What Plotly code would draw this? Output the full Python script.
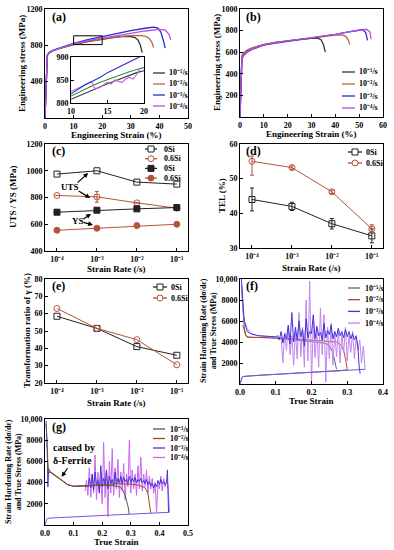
import plotly.graph_objects as go

W, H = 394, 550
FONT = "Liberation Serif"

# ---------------- DATA ----------------
rate_labels = ["10⁻¹/s", "10⁻²/s", "10⁻³/s", "10⁻⁴/s"]

# (a) 0Si engineering stress-strain
a_strain_1 = [0, 0.8, 1.5, 3, 5, 10, 15, 20, 25, 28, 30, 31.5, 32.5, 33.3, 34]
a_stress_1 = [0, 690, 720, 745, 765, 808, 840, 868, 890, 898, 897, 885, 860, 805, 720]
a_strain_2 = [0, 0.8, 1.5, 3, 5, 10, 15, 20, 25, 30, 33, 35, 36.5, 37.5, 38]
a_stress_2 = [0, 690, 720, 745, 766, 812, 845, 872, 893, 906, 910, 902, 875, 825, 775]
a_strain_3 = [0, 0.8, 1.5, 3, 5, 10, 15, 20, 25, 30, 35, 38, 39.5, 40.5, 41.5, 42]
a_stress_3 = [0, 690, 720, 748, 770, 822, 862, 898, 932, 962, 988, 1000, 990, 945, 840, 770]
a_strain_4 = [0, 0.8, 1.5, 3, 5, 10, 15, 20, 25, 30, 35, 40, 42, 43.3, 44]
a_stress_4 = [0, 690, 718, 745, 766, 818, 852, 880, 910, 938, 958, 975, 968, 925, 860]

# (a) inset, strain 10-20 %
in_strain = [10, 11, 12, 13, 14, 15, 16, 17, 18, 19, 20]
in_blue = [820, 830, 840, 848, 856, 866, 874, 882, 890, 898, 905]
in_green = [815, 823, 831, 838, 845, 851, 857, 863, 868, 873, 877]
in_dark = [808, 815, 822, 829, 836, 842, 848, 854, 860, 866, 870]
in_wavy_strain = [10, 11, 12, 12.8, 13.3, 14, 14.5, 15, 15.5, 16, 16.5, 17, 17.5, 18, 18.5, 19, 19.5]
in_wavy_stress = [825, 833, 841, 846, 831, 834, 840, 845, 841, 850, 847, 845, 852, 856, 852, 862, 876]

# (b) 0.6Si engineering stress-strain
b_strain_1 = [0, 0.8, 1.5, 3, 5, 10, 15, 20, 25, 30, 32.5, 34, 35, 35.8]
b_stress_1 = [0, 560, 590, 615, 635, 670, 690, 705, 718, 728, 730, 715, 670, 600]
b_strain_2 = [0, 0.8, 1.5, 3, 5, 10, 15, 20, 25, 30, 35, 40, 43, 44.5, 45.5, 46]
b_stress_2 = [0, 570, 595, 620, 640, 672, 690, 705, 718, 730, 745, 758, 760, 745, 710, 670]
b_strain_3 = [0, 0.8, 1.5, 3, 5, 10, 15, 20, 25, 30, 35, 40, 45, 50, 51.5, 52.8, 53.5]
b_stress_3 = [0, 540, 570, 600, 625, 665, 685, 700, 715, 730, 748, 765, 785, 805, 810, 780, 710]
b_strain_4 = [0, 0.8, 1.5, 3, 5, 10, 15, 20, 25, 30, 35, 40, 45, 50, 53, 54.5, 55]
b_stress_4 = [0, 545, 575, 605, 630, 668, 688, 702, 716, 730, 748, 765, 785, 803, 812, 790, 720]

# (c)(d)(e) vs strain rate
strain_rate = [1e-4, 1e-3, 1e-2, 1e-1]
rate_ticks = ["10⁻⁴", "10⁻³", "10⁻²", "10⁻¹"]
uts_0si = [975, 1000, 915, 900]
uts_06si = [815, 805, 760, 720]
uts_06si_err = [0, 40, 0, 0]
ys_0si = [690, 705, 715, 725]
ys_06si = [555, 570, 590, 600]
tel_0si = [44, 42, 37, 33.5]
tel_0si_err = [3.3, 1.2, 1.5, 2.0]
tel_06si = [55, 53.2, 46.2, 35.5]
tel_06si_err_plus = [1.5, 0.5, 0.5, 1.2]
tel_06si_err_minus = [4.0, 0.5, 0.5, 1.2]
tr_0si = [58.5, 51.5, 41, 36]
tr_06si = [63, 51.5, 45, 30.5]

# (f) 0Si strain hardening rate
f1_x = [0.004, 0.008, 0.012, 0.016, 0.02, 0.03, 0.05, 0.08, 0.1, 0.12, 0.15, 0.18, 0.2, 0.22, 0.24, 0.25, 0.26, 0.265, 0.27]
f1_y = [9500, 6800, 5300, 4700, 4500, 4450, 4450, 4400, 4350, 4300, 4200, 4100, 4050, 3950, 3850, 3650, 3000, 2200, 1400]
f2_x = [0.008, 0.012, 0.016, 0.02, 0.03, 0.05, 0.08, 0.1, 0.15, 0.2, 0.25, 0.27, 0.28, 0.29, 0.295, 0.3]
f2_y = [5600, 5000, 4600, 4450, 4450, 4450, 4420, 4400, 4300, 4200, 4100, 4000, 3800, 3200, 2400, 1400]
f3_x = [0.004, 0.008, 0.012, 0.02, 0.03, 0.05, 0.08, 0.1, 0.105, 0.11, 0.115, 0.12, 0.125, 0.13, 0.135,
        0.14, 0.145, 0.15, 0.155, 0.16, 0.165, 0.17, 0.175, 0.18, 0.185, 0.19, 0.195, 0.2, 0.205, 0.21,
        0.215, 0.22, 0.225, 0.23, 0.235, 0.24, 0.245, 0.25, 0.255, 0.26, 0.265, 0.27, 0.275, 0.28, 0.285,
        0.29, 0.295, 0.3, 0.305, 0.31, 0.315, 0.32, 0.325, 0.33, 0.333, 0.336]
f3_y = [10000, 7500, 6000, 5000, 4800, 4600, 4500, 4500, 4600, 4200, 5000, 3900, 4800, 4300, 5600,
        3800, 6800, 4000, 5400, 4200, 6000, 4500, 5200, 3600, 6200, 4400, 5000, 4800, 6600, 4300,
        5500, 4600, 4900, 4200, 5800, 4400, 5100, 4700, 5600, 4300, 5000, 4500, 5300, 4600, 5000,
        4400, 5200, 4500, 5000, 4300, 4800, 4200, 4600, 3500, 1800, 1000]
f4_x = [0.004, 0.008, 0.012, 0.016, 0.02, 0.03, 0.05, 0.08, 0.1, 0.115, 0.12, 0.125, 0.13, 0.135, 0.14,
        0.145, 0.15, 0.155, 0.16, 0.165, 0.17, 0.175, 0.18, 0.185, 0.19, 0.195, 0.2, 0.205, 0.21, 0.215,
        0.22, 0.225, 0.23, 0.235, 0.24, 0.245, 0.25, 0.255, 0.26, 0.265, 0.27, 0.275, 0.28, 0.285, 0.29,
        0.295, 0.3, 0.305, 0.31, 0.315, 0.32, 0.325, 0.33, 0.335, 0.34, 0.345, 0.35]
f4_y = [9500, 7000, 6000, 5600, 5300, 4800, 4600, 4500, 4450, 4400, 2000, 4800, 3200, 5500, 2800,
        4600, 1800, 5000, 2400, 6800, 2600, 5400, 1600, 8000, 2200, 9800, 0, 6000, 2500, 5200,
        1600, 7200, 2800, 6600, 200, 5400, 2400, 5800, 1800, 5000, 2600, 5200, 2000, 4800, 3000,
        5400, 2200, 4600, 3000, 5000, 2400, 4400, 3200, 4200, 2000, 3600, 1400]
f_ts_x = [0, 0.003, 0.006, 0.01, 0.02, 0.05, 0.1, 0.15, 0.2, 0.25, 0.3, 0.35]
f_ts_y = [0, 500, 650, 720, 760, 820, 920, 1020, 1120, 1220, 1320, 1400]

# (g) 0.6Si strain hardening rate
g1_x = [0.004, 0.008, 0.012, 0.016, 0.02, 0.04, 0.06, 0.08, 0.1, 0.12, 0.15, 0.2, 0.24, 0.26, 0.27, 0.28, 0.29, 0.295]
g1_y = [9500, 6500, 4800, 5000, 4950, 4550, 4150, 3800, 3650, 3650, 3700, 3750, 3700, 3600, 3400, 2800, 1800, 1000]
g2_x = [0.008, 0.012, 0.016, 0.02, 0.04, 0.06, 0.08, 0.1, 0.12, 0.15, 0.2, 0.25, 0.3, 0.33, 0.35, 0.36, 0.365, 0.37]
g2_y = [6000, 5000, 5100, 5000, 4600, 4200, 3800, 3650, 3650, 3700, 3800, 3900, 3850, 3750, 3500, 3000, 2000, 1100]
g3_x = [0.004, 0.008, 0.01, 0.013, 0.016, 0.02, 0.04, 0.06, 0.08, 0.1, 0.12, 0.14, 0.15, 0.155, 0.16,
        0.165, 0.17, 0.175, 0.18, 0.185, 0.19, 0.195, 0.2, 0.205, 0.21, 0.215, 0.22, 0.225, 0.23, 0.235,
        0.24, 0.245, 0.25, 0.255, 0.26, 0.265, 0.27, 0.275, 0.28, 0.285, 0.29, 0.295, 0.3, 0.305, 0.31,
        0.315, 0.32, 0.325, 0.33, 0.335, 0.34, 0.345, 0.35, 0.355, 0.36, 0.365, 0.37, 0.375, 0.38, 0.385,
        0.39, 0.395, 0.4, 0.405, 0.41, 0.415, 0.42, 0.425, 0.428, 0.432]
g3_y = [9800, 7000, 3600, 5300, 5100, 5000, 4600, 4200, 3800, 3650, 3650, 3700, 3600, 4400, 3500,
        4800, 3300, 5000, 3700, 4200, 3000, 5600, 3600, 4400, 3800, 5200, 3400, 4600, 3900, 4300,
        3700, 5000, 3800, 4400, 4000, 4600, 3900, 4500, 4100, 4300, 3900, 4600, 4000, 4400, 4100,
        4500, 4000, 4300, 4100, 4400, 4000, 4200, 3900, 4300, 3800, 4100, 3700, 3900, 3500, 3900,
        3600, 4200, 3800, 4300, 3900, 4100, 3800, 4000, 5200, 1200]
g4_x = [0.14, 0.145, 0.15, 0.155, 0.16, 0.165, 0.17, 0.175, 0.18, 0.185, 0.19, 0.195, 0.2, 0.205, 0.21,
        0.215, 0.22, 0.225, 0.23, 0.235, 0.24, 0.245, 0.25, 0.255, 0.26, 0.265, 0.27, 0.275, 0.28, 0.285,
        0.29, 0.295, 0.3, 0.305, 0.31, 0.315, 0.32, 0.325, 0.33, 0.335, 0.34, 0.345, 0.35, 0.355, 0.36,
        0.365, 0.37, 0.375, 0.38, 0.385, 0.39, 0.395, 0.4, 0.405, 0.41, 0.415, 0.42, 0.425, 0.43, 0.435]
g4_y = [3200, 4200, 2800, 5400, 2600, 4800, 3000, 6600, 2400, 5000, 3200, 4400, 2000, 7800, 2600,
        5200, 800, 6000, 3000, 7200, 2800, 5400, 3400, 6200, 2600, 5000, 3200, 5800, 2400, 4800,
        3600, 8000, 3000, 5200, 3400, 4800, 2800, 5600, 3400, 6400, 3200, 4800, 3600, 5200, 3000,
        4600, 3400, 4400, 3000, 4000, 1200, 3800, 3400, 4600, 3200, 4400, 3600, 4200, 3800, 1200]
g_ts_x = [0, 0.003, 0.006, 0.01, 0.02, 0.05, 0.1, 0.15, 0.2, 0.25, 0.3, 0.35, 0.4, 0.435]
g_ts_y = [0, 450, 560, 620, 660, 700, 760, 820, 880, 940, 1000, 1060, 1120, 1200]

# ---------------- STYLE ----------------
col_ab = ["#333333", "#b5683c", "#2a2ad0", "#b450e0"]
col_f = ["#666666", "#b04a2a", "#4433dd", "#c085f0"]
col_g = ["#555555", "#9a4a2a", "#4433dd", "#cc66ee"]
BLACK = "#222222"
BROWN = "#b5533a"


def dx(a, b):
    return [a / W, b / W]


def dy(top, bottom):
    return [1 - bottom / H, 1 - top / H]


def axis(domain, rng, anchor, tickvals, ticktext=None, typ="linear", tickformat=None):
    d = dict(domain=domain, range=rng, anchor=anchor, type=typ, showline=True, linecolor="black",
             linewidth=1, mirror=True, ticks="inside", ticklen=3, tickwidth=1, tickcolor="black",
             showgrid=False, zeroline=False, automargin=False, tickvals=tickvals,
             tickfont=dict(family=FONT, size=8, color="black", weight="bold"))
    if ticktext is not None:
        d["ticktext"] = ticktext
    if tickformat:
        d["tickformat"] = tickformat
    return d


fig = go.Figure()


def line(x, y, xa, ya, color, width=1.1):
    fig.add_trace(go.Scatter(x=x, y=y, xaxis=xa, yaxis=ya, mode="lines",
                             line=dict(color=color, width=width), showlegend=False, hoverinfo="skip"))


# (a)
for xs, ys, c in [(a_strain_1, a_stress_1, col_ab[0]), (a_strain_2, a_stress_2, col_ab[1]),
                  (a_strain_3, a_stress_3, col_ab[2]), (a_strain_4, a_stress_4, col_ab[3])]:
    line(xs, ys, "x", "y", c, 1.3)
# inset
line(in_strain, in_dark, "x8", "y8", "#333333")
line(in_strain, in_green, "x8", "y8", "#2e8b3e")
line(in_wavy_strain, in_wavy_stress, "x8", "y8", "#c060e0")
line(in_strain, in_blue, "x8", "y8", "#2a2ad0")

# (b)
for xs, ys, c in [(b_strain_1, b_stress_1, col_ab[0]), (b_strain_2, b_stress_2, col_ab[1]),
                  (b_strain_3, b_stress_3, col_ab[2]), (b_strain_4, b_stress_4, col_ab[3])]:
    line(xs, ys, "x2", "y2", c, 1.3)


def pts(x, y, xa, ya, color, symbol, err=None, errm=None):
    e = None
    if err is not None:
        e = dict(type="data", array=err, arrayminus=errm if errm is not None else err,
                 color=color, thickness=1, width=2, visible=True)
    fig.add_trace(go.Scatter(x=x, y=y, xaxis=xa, yaxis=ya, mode="lines+markers",
                             line=dict(color=color, width=1),
                             marker=dict(symbol=symbol, size=6, color=color,
                                         line=dict(color=color, width=1)),
                             error_y=e, showlegend=False, hoverinfo="skip"))


# (c)
pts(strain_rate, uts_0si, "x3", "y3", BLACK, "square-open")
pts(strain_rate, uts_06si, "x3", "y3", BROWN, "circle-open", uts_06si_err)
pts(strain_rate, ys_0si, "x3", "y3", BLACK, "square")
pts(strain_rate, ys_06si, "x3", "y3", BROWN, "circle")
# (d)
pts(strain_rate, tel_0si, "x4", "y4", BLACK, "square-open", tel_0si_err)
pts(strain_rate, tel_06si, "x4", "y4", BROWN, "circle-open", tel_06si_err_plus, tel_06si_err_minus)
# (e)
pts(strain_rate, tr_0si, "x5", "y5", BLACK, "square-open")
pts(strain_rate, tr_06si, "x5", "y5", BROWN, "circle-open")

# (f)
line(f_ts_x[:11] + [0.27], f_ts_y[:11] + [1260], "x6", "y6", col_f[0], 1)
line(f1_x, f1_y, "x6", "y6", col_f[0], 1)
line(f2_x, f2_y, "x6", "y6", col_f[1], 1)
line(f4_x, f4_y, "x6", "y6", col_f[3], 1)
line(f3_x, f3_y, "x6", "y6", col_f[2], 1)
line(f_ts_x, f_ts_y, "x6", "y6", "#7a55dd", 1)

# (g)
line(g4_x, g4_y, "x7", "y7", col_g[3], 1)
line(g3_x, g3_y, "x7", "y7", col_g[2], 1)
line(g1_x, g1_y, "x7", "y7", col_g[0], 1)
line(g2_x, g2_y, "x7", "y7", col_g[1], 1)
line(g_ts_x, g_ts_y, "x7", "y7", "#7a55dd", 1)

log_rng = [-4.3, -0.72]
fig.update_layout(
    xaxis=axis(dx(45, 188), [0, 50], "y", [0, 10, 20, 30, 40, 50]),
    yaxis=axis(dy(9, 118), [0, 1200], "x", [400, 800, 1200]),
    xaxis2=axis(dx(240, 383), [0, 60], "y2", [0, 10, 20, 30, 40, 50, 60]),
    yaxis2=axis(dy(9, 117), [0, 1000], "x2", [200, 400, 600, 800, 1000]),
    xaxis3=axis(dx(45, 188), log_rng, "y3", strain_rate, rate_ticks, "log"),
    yaxis3=axis(dy(144, 251), [400, 1200], "x3", [400, 600, 800, 1000, 1200]),
    xaxis4=axis(dx(240, 383), log_rng, "y4", strain_rate, rate_ticks, "log"),
    yaxis4=axis(dy(144, 248), [30, 60], "x4", [30, 40, 50, 60]),
    xaxis5=axis(dx(45, 188), log_rng, "y5", strain_rate, rate_ticks, "log"),
    yaxis5=axis(dy(279, 383), [20, 80], "x5", [20, 30, 40, 50, 60, 70, 80]),
    xaxis6=axis(dx(240, 383), [0, 0.4], "y6", [0, 0.1, 0.2, 0.3, 0.4], tickformat=".1f"),
    yaxis6=axis(dy(279, 384), [0, 10000], "x6", [2000, 4000, 6000, 8000, 10000],
                ["2000", "4000", "6000", "8000", "10,000"]),
    xaxis7=axis(dx(45, 188), [0, 0.5], "y7", [0, 0.1, 0.2, 0.3, 0.4, 0.5], tickformat=".1f"),
    yaxis7=axis(dy(419, 525), [0, 10000], "x7", [2000, 4000, 6000, 8000, 10000],
                ["2000", "4000", "6000", "8000", "10,000"]),
    xaxis8=axis(dx(71, 144), [10, 20], "y8", [10, 15, 20]),
    yaxis8=axis(dy(57, 103), [800, 900], "x8", [800, 850, 900]),
)

shapes = []
annotations = []

# zoom box in (a)
shapes.append(dict(type="rect", xref="x", yref="y", x0=10, x1=20, y0=808, y1=905,
                   line=dict(color="black", width=1)))


def ann(x, y, text, size=9, angle=0, xanchor="center", yanchor="middle"):
    annotations.append(dict(xref="paper", yref="paper", x=x / W, y=1 - y / H, text=text,
                            showarrow=False, textangle=angle, xanchor=xanchor, yanchor=yanchor,
                            font=dict(family=FONT, size=size, color="black", weight="bold")))


def leg(x0, x1, xt, y, label, color, marker=None, filled=False):
    shapes.append(dict(type="line", xref="paper", yref="paper", x0=x0 / W, x1=x1 / W,
                       y0=1 - y / H, y1=1 - y / H, line=dict(color=color, width=1.3)))
    if marker:
        cx = (x0 + x1) / 2
        r = 3
        shapes.append(dict(type="rect" if marker == "square" else "circle", xref="paper",
                           yref="paper", x0=(cx - r) / W, x1=(cx + r) / W, y0=1 - (y + r) / H,
                           y1=1 - (y - r) / H, line=dict(color=color, width=1),
                           fillcolor=color if filled else "white"))
    ann(xt, y, label, 8, xanchor="left")


# panel labels
for x, y, t in [(50, 17, "(a)"), (244, 17, "(b)"), (50, 151, "(c)"), (244, 151, "(d)"),
                (50, 286, "(e)"), (244, 286, "(f)"), (50, 427, "(g)")]:
    ann(x, y, t, 12, xanchor="left")

# axis titles
ann(22, 64, "Engineering stress (MPa)", 9, -90)
ann(116, 135, "Engineering Strain (%)", 9)
ann(217, 63, "Engineering stress (MPa)", 9, -90)
ann(311, 134, "Engineering Strain (%)", 9)
ann(13, 197, "UTS / YS (MPa)", 9, -90)
ann(116, 269, "Strain Rate (/s)", 9)
ann(222, 196, "TEL (%)", 9, -90)
ann(311, 268, "Strain Rate (/s)", 9)
ann(27, 331, "Transformation ratio of γ (%)", 9, -90)
ann(116, 403, "Strain Rate (/s)", 9)
ann(208, 331, "Strain Hardening Rate (dσ/dε)<br>and True Stress (MPa)", 8, -90)
ann(311, 401, "True Strain", 9)
ann(13, 472, "Strain Hardening Rate (dσ/dε)<br>and True Stress (MPa)", 8, -90)
ann(116, 542, "True Strain", 9)

# legends
for i in range(4):
    leg(153, 165, 167, 73 + 11 * i, rate_labels[i], col_ab[i])
    leg(342, 355, 357, 72 + 12 * i, rate_labels[i], col_ab[i])
    leg(348, 360, 363, 288 + 11.7 * i, rate_labels[i], col_f[i])
    leg(153, 165, 168, 429 + 9.5 * i, rate_labels[i], col_g[i])
for i, (lab, c, m, f) in enumerate([("0Si", BLACK, "square", False), ("0.6Si", BROWN, "circle", False),
                                    ("0Si", BLACK, "square", True), ("0.6Si", BROWN, "circle", True)]):
    leg(145, 157, 162, 149 + 9.7 * i, lab, c, m, f)
leg(348, 362, 364, 152, "0Si", BLACK, "square")
leg(348, 362, 364, 163, "0.6Si", BROWN, "circle")
leg(153, 167, 169, 287, "0Si", BLACK, "square")
leg(153, 167, 169, 298, "0.6Si", BROWN, "circle")

# arrows in (c)
ann(70, 187, "UTS", 9)
ann(78, 221, "YS", 9)
for tip, ax_, ay_ in [((-3.22, 983), -12, 11), ((-3.17, 796), -13, -8),
                      ((-3.15, 677), -9, 6), ((-3.1, 595), -11, -3)]:
    annotations.append(dict(xref="x3", yref="y3", x=tip[0], y=tip[1], text="", showarrow=True,
                            ax=ax_, ay=ay_, arrowhead=2, arrowsize=0.8, arrowwidth=1.2,
                            arrowcolor="black"))

# annotation in (g)
annotations.append(dict(xref="x7", yref="y7", x=0.1, y=6700, text="caused by<br>δ-Ferrite",
                        showarrow=False, align="left",
                        font=dict(family=FONT, size=10, color="black", weight="bold")))
annotations.append(dict(xref="x7", yref="y7", x=0.058, y=4550, text="", showarrow=True, ax=7,
                        ay=-10, arrowhead=2, arrowsize=0.8, arrowwidth=1.2, arrowcolor="black"))

fig.update_layout(width=W, height=H, margin=dict(l=0, r=0, t=0, b=0),
                  paper_bgcolor="white", plot_bgcolor="white", showlegend=False,
                  shapes=shapes, annotations=annotations)

fig.write_html("out.html", config={"displayModeBar": False, "staticPlot": True},
               post_script="document.body.style.margin='0px';document.body.style.overflow='hidden';")
